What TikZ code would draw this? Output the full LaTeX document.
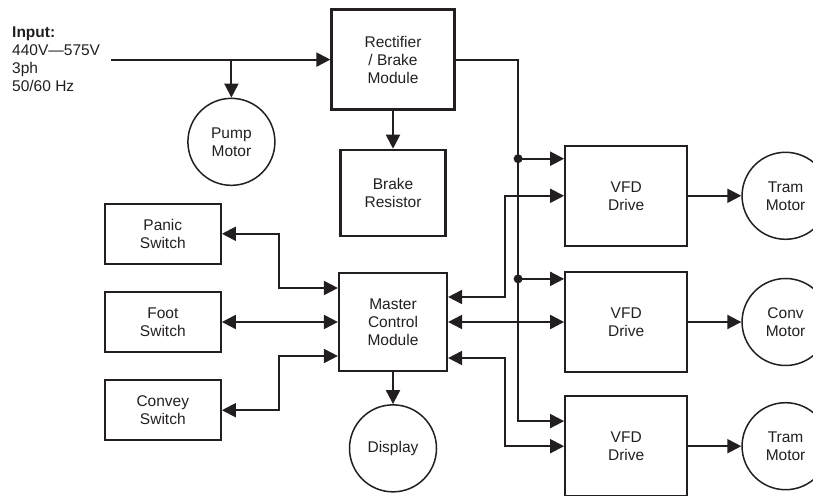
\documentclass[tikz,border=0pt]{standalone}
\usepackage{fontspec}
\setmainfont{Liberation Sans}
\usetikzlibrary{positioning,arrows.meta}
\definecolor{ink}{HTML}{231F20}

\begin{document}
\begin{tikzpicture}[
    x=1pt, y=1pt,
    font=\fontsize{15.5}{18}\selectfont,
    every node/.style={text=ink},
    box/.style={
        rectangle,
        draw=ink,
        line width=2.2pt,
        align=center,
        inner sep=2pt
    },
    rectbox/.style={box, minimum width=123pt, minimum height=100pt},
    brakebox/.style={box, minimum width=105pt, minimum height=86pt},
    mcmbox/.style={box, minimum width=108pt, minimum height=98pt},
    switchbox/.style={box, minimum width=116pt, minimum height=60pt},
    vfdbox/.style={box, minimum width=122pt, minimum height=100pt},
    motor/.style={
        circle,
        draw=ink,
        line width=1.5pt,
        minimum size=87pt,
        align=center,
        inner sep=0pt
    },
    line/.style={
        draw=ink,
        line width=2pt,
        -{Triangle[length=14pt,width=14pt]}
    },
    dline/.style={
        draw=ink,
        line width=2pt,
        {Triangle[length=14pt,width=14pt]}-{Triangle[length=14pt,width=14pt]}
    },
    dot/.style={fill=ink}
]
    \useasboundingbox (0,0) rectangle (813,495);

    % --- Nodes ---

    % Centre column
    \node [mcmbox] (mcm) at (393,173) {Master\\Control\\Module};
    \node [brakebox, above=35pt of mcm] (brake) {Brake\\Resistor};
    \node [rectbox, above=38pt of brake] (rect) {Rectifier\\/ Brake\\Module};
    \node [motor, below=32pt of mcm] (disp) {Display};

    % Input and pump
    \node [anchor=north west, inner sep=0pt, align=left] (input) at (12,468)
        {\textbf{Input:}\\440V—575V\\3ph\\50/60 Hz};
    \coordinate [left=219pt of rect.west] (inp);
    \coordinate [left=99pt of rect.west] (tap);
    \node [motor, below=38pt of tap] (pump) {Pump\\Motor};

    % Switches on the left
    \node [switchbox, left=116pt of mcm] (foot) {Foot\\Switch};
    \node [switchbox, above=26pt of foot] (panic) {Panic\\Switch};
    \node [switchbox, below=26pt of foot] (convey) {Convey\\Switch};

    % Drives and motors on the right
    \node [vfdbox, right=116pt of mcm] (vfd2) {VFD\\Drive};
    \node [vfdbox, above=24pt of vfd2] (vfd1) {VFD\\Drive};
    \node [vfdbox, below=22pt of vfd2] (vfd3) {VFD\\Drive};
    \node [motor, right=53pt of vfd1] (tram1) {Tram\\Motor};
    \node [motor, right=53pt of vfd2] (conv) {Conv\\Motor};
    \node [motor, right=53pt of vfd3] (tram2) {Tram\\Motor};

    % Bus taps and bends
    \coordinate (j1) at ([xshift=-46pt,yshift=-14pt]vfd1.north west);
    \coordinate (j2) at ([xshift=-46pt,yshift=-8pt]vfd2.north west);
    \coordinate (jb) at ([xshift=-46pt,yshift=-26pt]vfd3.north west);
    \coordinate (k1) at ([xshift=57pt,yshift=25pt]mcm.east);
    \coordinate (k3) at ([xshift=57pt,yshift=-36pt]mcm.east);
    \coordinate (k4) at ([xshift=-59pt,yshift=34pt]mcm.west);
    \coordinate (k6) at ([xshift=-59pt,yshift=-34pt]mcm.west);

    % --- Connections ---

    % 1. Mains input
    \path [line] (inp) -- (rect.west);
    \path [line] (tap) -- (pump);
    \path [line] (rect) -- (brake);

    % 2. DC bus to the drives
    \path [line] (rect.east) -| (jb) -- (jb -| vfd3.west);
    \path [line] (j1) -- (j1 -| vfd1.west);
    \path [line] (j2) -- (j2 -| vfd2.west);
    \fill [dot] (j1) circle (4.5pt);
    \fill [dot] (j2) circle (4.5pt);

    % 3. Switches to the master control
    \path [dline] (panic.east) -| (k4) -- ([yshift=34pt]mcm.west);
    \path [dline] (foot) -- (mcm);
    \path [dline] (convey.east) -| (k6) -- ([yshift=-34pt]mcm.west);

    % 4. Master control to the drives
    \path [dline] ([yshift=25pt]mcm.east) -- (k1) |- (vfd1.west);
    \path [dline] (mcm) -- (vfd2);
    \path [dline] ([yshift=-36pt]mcm.east) -- (k3) |- (vfd3.west);
    \path [line] (mcm) -- (disp);

    % 5. Drives to motors
    \path [line] (vfd1) -- (tram1);
    \path [line] (vfd2) -- (conv);
    \path [line] (vfd3) -- (tram2);

\end{tikzpicture}
\end{document}
